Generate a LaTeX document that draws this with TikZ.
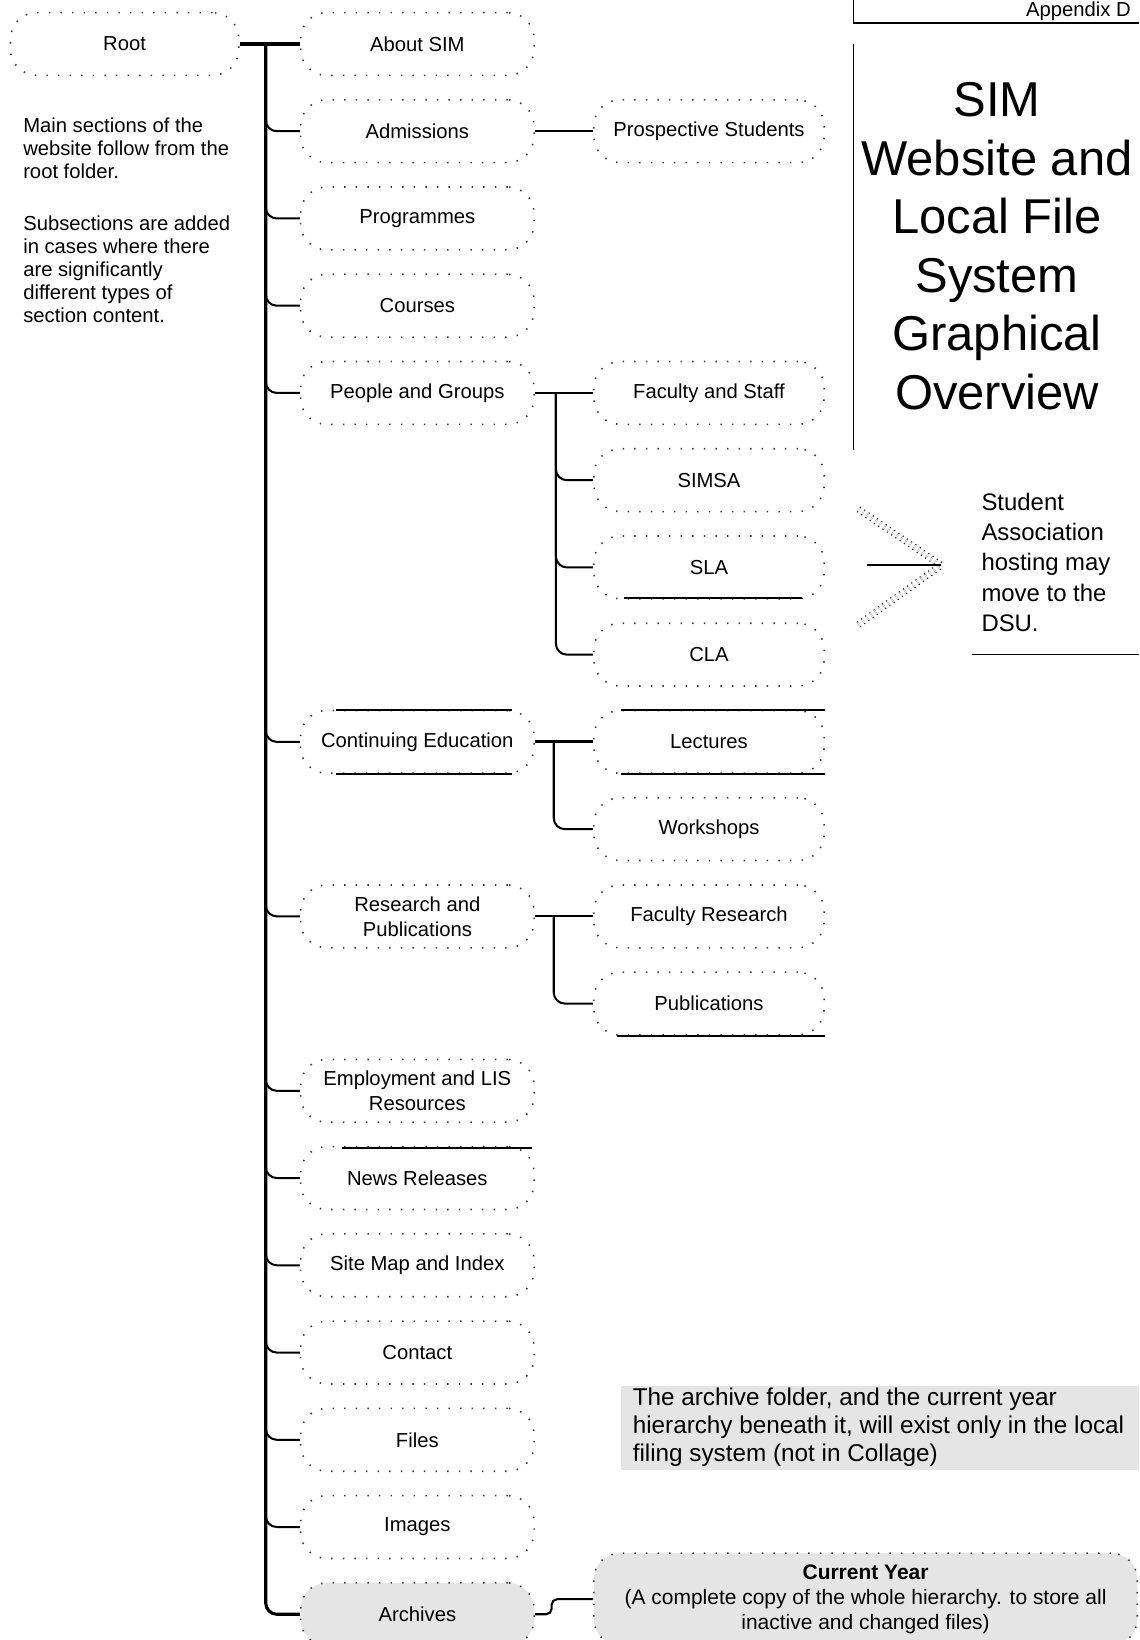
\documentclass[tikz,border=0pt]{standalone}
\usepackage{fontspec}
\setmainfont{Liberation Sans}
\usetikzlibrary{positioning,calc}
\definecolor{notegray}{gray}{0.9}

\tikzset{
  folder/.style={draw=black!75, line width=0.9pt, dash pattern=on 0.8pt off 5.5pt,
    rounded corners=0.5cm, minimum width=4.46cm, minimum height=1.2cm,
    align=center, font=\fontsize{11}{13.6}\selectfont},
  subfolder/.style={folder, minimum width=4.4cm},
  trunk/.style={line width=1.7pt, rounded corners=6pt},
  branch/.style={line width=1.1pt, rounded corners=6pt},
  rim/.style={line width=1.1pt},
  fanline/.style={line width=0.6pt, dash pattern=on 0.6pt off 2.2pt, double, double distance=2.4pt},
}

\begin{document}
\begin{tikzpicture}[x=0.02cm, y=-0.02cm]
    \useasboundingbox (0,0) rectangle (1088,1566);

    % Root and its notes
    \node[folder, minimum width=4.36cm] (root) at (119,42) {Root};
    \node[anchor=north west, align=left, font=\fontsize{11}{12.5}\selectfont] (mainnote) at (16,106)
      {Main sections of the\\ website follow from the\\ root folder.\\[15.9pt]
       Subsections are added\\ in cases where there\\ are significantly\\ different types of\\ section content.};

    % Main sections
    \foreach \n/\r/\t in {aboutsim/0/About SIM, admissions/1/Admissions, programmes/2/Programmes,
      courses/3/Courses, people/4/People and Groups, contedu/8/Continuing Education,
      research/10/Research and\\Publications, employment/12/Employment and LIS\\Resources,
      news/13/News Releases, sitemap/14/Site Map and Index, contact/15/Contact,
      files/16/Files, images/17/Images} {
      \node[folder] (\n) at (398.5,{42+83.3*\r}) {\t};
    }
    \node[folder, fill=notegray] (archives) at (398.5,{42+83.3*18}) {Archives};

    % Subsections
    \foreach \n/\r/\t in {prospective/1/Prospective Students, facstaff/4/Faculty and Staff,
      simsa/5/SIMSA, sla/6/SLA, cla/7/CLA, lectures/8/Lectures, workshops/9/Workshops,
      facresearch/10/Faculty Research, publications/11/Publications} {
      \node[subfolder] (\n) at (677,{42+83.3*\r}) {\t};
    }
    \node[folder, fill=notegray, minimum width=10.38cm, minimum height=1.76cm,
      font=\fontsize{11.4}{13.6}\selectfont] (curyear) at (826.5,1527)
      {\textbf{Current Year}\\(A complete copy of the whole hierarchy. to store all\\inactive and changed files)};

    % Solid rims on some folders
    \draw[rim] ($(contedu.north west)+(35,0)$) -- ($(contedu.north east)+(-22,0)$);
    \draw[rim] ($(contedu.south west)+(35,0)$) -- ($(contedu.south east)+(-22,0)$);
    \draw[rim] ($(lectures.north west)+(27,0)$) -- (lectures.north east);
    \draw[rim] ($(lectures.south west)+(27,0)$) -- (lectures.south east);
    \draw[rim] ($(sla.south west)+(30,-2)$) -- ($(sla.south east)+(-22,-2)$);
    \draw[rim] ($(publications.south west)+(23,0)$) -- (publications.south east);
    \draw[rim] ($(news.north west)+(40,2)$) -- ($(news.north east)+(-3,2)$);

    % Tree connectors
    \coordinate (rootfork) at ($(root.east)+(25,0)$);
    \draw[trunk] (root.east) -- (aboutsim.west);
    \foreach \n in {admissions,programmes,courses,people,contedu,research,employment,news,sitemap,contact,files,images} {
      \draw[branch] (rootfork) |- (\n.west);
    }
    \draw[trunk] (rootfork) |- (archives.west);

    \draw[branch] (admissions.east) -- (prospective.west);

    \coordinate (peoplefork) at ($(people.east)+(20,0)$);
    \draw[branch] (people.east) -- (facstaff.west);
    \foreach \n in {simsa,sla,cla} {
      \draw[branch] (peoplefork) |- (\n.west);
    }

    \coordinate (cefork) at ($(contedu.east)+(18,0)$);
    \draw[trunk] (contedu.east) -- (lectures.west);
    \draw[branch] (cefork) |- (workshops.west);

    \coordinate (resfork) at ($(research.east)+(18,0)$);
    \draw[branch] (research.east) -- (facresearch.west);
    \draw[branch] (resfork) |- (publications.west);

    \draw[branch, rounded corners=3pt] (archives.east) -- ++(16,0) |- (curyear.west);

    % Student association fan
    \coordinate (fantip) at ($(sla.east)+(111,-2)$);
    \draw[fanline] ($(simsa.south east)+(32,-3)$) -- (fantip);
    \draw[fanline] ($(cla.north east)+(32,2)$) -- (fantip);
    \draw[line width=1pt] ($(sla.east)+(40,-2)$) -- (fantip);
    \node[anchor=west, align=left, font=\fontsize{13}{16.4}\selectfont] (sanote) at (931,537)
      {Student\\ Association\\ hosting may\\ move to the\\ DSU.};
    \draw[line width=0.8pt] (928,625) -- (1088,625);

    % Title block
    \draw[line width=0.8pt] (815,0) -- (815,22) -- (1088,22);
    \node[anchor=east, font=\fontsize{11}{13}\selectfont] (appendix) at (1086,11) {Appendix D};
    \draw[line width=0.8pt] (815,42) -- (815,430);
    \node[align=center, font=\fontsize{26.6}{31.8}\selectfont] (title) at (952,235)
      {SIM\\ Website and\\ Local File\\ System\\ Graphical\\ Overview};

    % Archive note
    \fill[notegray] (593,1323) rectangle (1088,1404);
    \node[anchor=west, align=left, font=\fontsize{13.2}{15.3}\selectfont] (archnote) at (598,1363)
      {The archive folder, and the current year\\ hierarchy beneath it, will exist only in the local\\ filing system (not in Collage)};
\end{tikzpicture}
\end{document}
